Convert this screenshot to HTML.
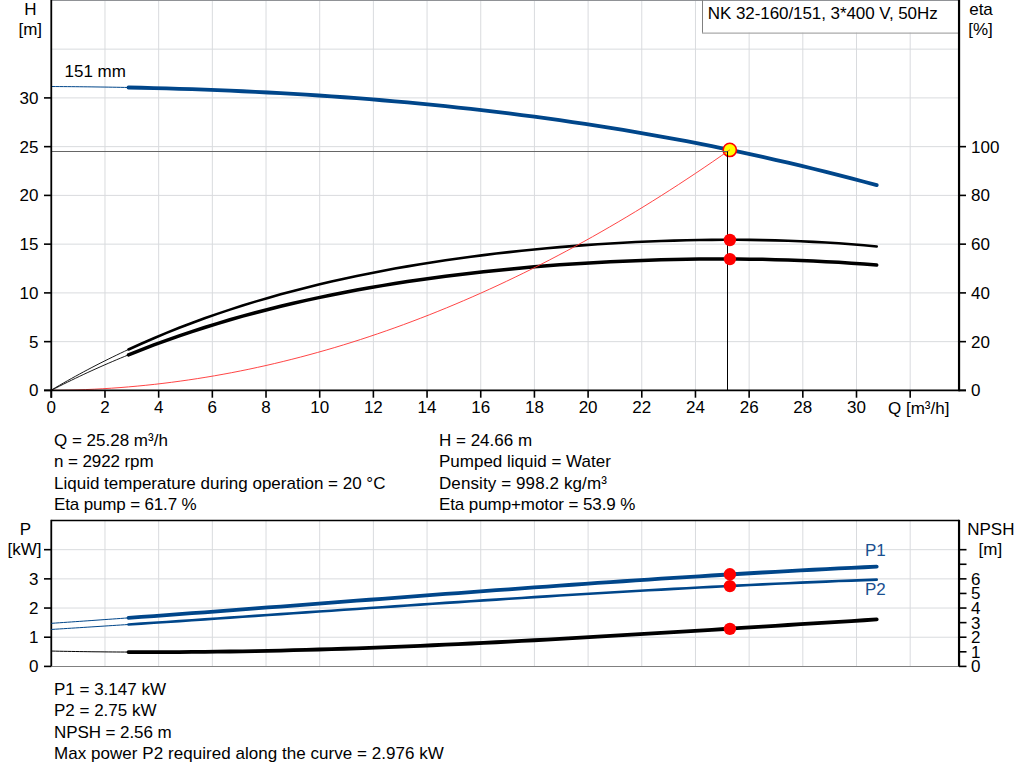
<!DOCTYPE html>
<html><head><meta charset="utf-8"><style>
html,body{margin:0;padding:0;background:#fff;}
svg{display:block;}
text{font-family:"Liberation Sans",sans-serif;font-size:17px;}
</style></head><body>
<svg width="1024" height="781" viewBox="0 0 1024 781">
<rect width="1024" height="781" fill="#fff"/>
<line x1="104.98" y1="0" x2="104.98" y2="390" stroke="#d9dbde" stroke-width="1"/>
<line x1="158.66" y1="0" x2="158.66" y2="390" stroke="#d9dbde" stroke-width="1"/>
<line x1="212.34" y1="0" x2="212.34" y2="390" stroke="#d9dbde" stroke-width="1"/>
<line x1="266.02" y1="0" x2="266.02" y2="390" stroke="#d9dbde" stroke-width="1"/>
<line x1="319.70" y1="0" x2="319.70" y2="390" stroke="#d9dbde" stroke-width="1"/>
<line x1="373.38" y1="0" x2="373.38" y2="390" stroke="#d9dbde" stroke-width="1"/>
<line x1="427.06" y1="0" x2="427.06" y2="390" stroke="#d9dbde" stroke-width="1"/>
<line x1="480.74" y1="0" x2="480.74" y2="390" stroke="#d9dbde" stroke-width="1"/>
<line x1="534.42" y1="0" x2="534.42" y2="390" stroke="#d9dbde" stroke-width="1"/>
<line x1="588.10" y1="0" x2="588.10" y2="390" stroke="#d9dbde" stroke-width="1"/>
<line x1="641.78" y1="0" x2="641.78" y2="390" stroke="#d9dbde" stroke-width="1"/>
<line x1="695.46" y1="0" x2="695.46" y2="390" stroke="#d9dbde" stroke-width="1"/>
<line x1="749.14" y1="0" x2="749.14" y2="390" stroke="#d9dbde" stroke-width="1"/>
<line x1="802.82" y1="0" x2="802.82" y2="390" stroke="#d9dbde" stroke-width="1"/>
<line x1="856.50" y1="0" x2="856.50" y2="390" stroke="#d9dbde" stroke-width="1"/>
<line x1="910.18" y1="0" x2="910.18" y2="390" stroke="#d9dbde" stroke-width="1"/>
<line x1="51" y1="341.65" x2="959" y2="341.65" stroke="#d9dbde" stroke-width="1"/>
<line x1="51" y1="292.90" x2="959" y2="292.90" stroke="#d9dbde" stroke-width="1"/>
<line x1="51" y1="244.15" x2="959" y2="244.15" stroke="#d9dbde" stroke-width="1"/>
<line x1="51" y1="195.40" x2="959" y2="195.40" stroke="#d9dbde" stroke-width="1"/>
<line x1="51" y1="146.65" x2="959" y2="146.65" stroke="#d9dbde" stroke-width="1"/>
<line x1="51" y1="97.90" x2="959" y2="97.90" stroke="#d9dbde" stroke-width="1"/>
<line x1="51" y1="49.15" x2="959" y2="49.15" stroke="#d9dbde" stroke-width="1"/>
<line x1="51" y1="0.5" x2="959" y2="0.5" stroke="#909296" stroke-width="1"/>
<rect x="703" y="1" width="255" height="31.5" fill="#fff" stroke="none"/>
<line x1="702.5" y1="0" x2="702.5" y2="33" stroke="#808080" stroke-width="1"/>
<line x1="702" y1="33.1" x2="959" y2="33.1" stroke="#aaaaaa" stroke-width="1.4"/>
<path d="M51.30,390.10 L55.36,387.70 L59.43,385.33 L63.49,382.99 L67.55,380.68 L71.62,378.41 L75.68,376.16 L79.74,373.94 L83.81,371.74 L87.87,369.58 L91.93,367.45 L95.99,365.34 L100.06,363.26 L104.12,361.21 L108.18,359.19 L112.25,357.19 L116.31,355.22 L120.37,353.27 L124.44,351.35 L128.50,349.45" fill="none" stroke="#000" stroke-width="0.9"/>
<path d="M128.50,349.45 L141.18,343.70 L153.86,338.19 L166.54,332.90 L179.23,327.83 L191.91,322.98 L204.59,318.33 L217.27,313.87 L229.95,309.61 L242.63,305.53 L255.31,301.62 L267.99,297.89 L280.68,294.32 L293.36,290.90 L306.04,287.64 L318.72,284.52 L331.40,281.55 L344.08,278.70 L356.76,275.99 L369.45,273.40 L382.13,270.94 L394.81,268.59 L407.49,266.35 L420.17,264.22 L432.85,262.20 L445.53,260.28 L458.22,258.46 L470.90,256.73 L483.58,255.09 L496.26,253.55 L508.94,252.09 L521.62,250.72 L534.30,249.44 L546.98,248.24 L559.67,247.12 L572.35,246.08 L585.03,245.12 L597.71,244.24 L610.39,243.43 L623.07,242.71 L635.75,242.06 L648.44,241.50 L661.12,241.01 L673.80,240.60 L686.48,240.27 L699.16,240.03 L711.84,239.87 L724.52,239.79 L737.21,239.80 L749.89,239.90 L762.57,240.09 L775.25,240.38 L787.93,240.76 L800.61,241.24 L813.29,241.83 L825.97,242.52 L838.66,243.32 L851.34,244.24 L864.02,245.27 L876.70,246.42" fill="none" stroke="#000" stroke-width="2.6" stroke-linecap="round"/>
<path d="M51.30,390.35 L55.36,388.26 L59.43,386.20 L63.49,384.16 L67.55,382.15 L71.62,380.16 L75.68,378.20 L79.74,376.26 L83.81,374.34 L87.87,372.45 L91.93,370.59 L95.99,368.75 L100.06,366.93 L104.12,365.13 L108.18,363.36 L112.25,361.61 L116.31,359.89 L120.37,358.18 L124.44,356.50 L128.50,354.84" fill="none" stroke="#000" stroke-width="0.9"/>
<path d="M128.50,354.84 L141.18,349.79 L153.86,344.95 L166.54,340.31 L179.23,335.85 L191.91,331.58 L204.59,327.48 L217.27,323.55 L229.95,319.79 L242.63,316.19 L255.31,312.74 L267.99,309.44 L280.68,306.29 L293.36,303.27 L306.04,300.39 L318.72,297.63 L331.40,295.00 L344.08,292.49 L356.76,290.09 L369.45,287.81 L382.13,285.63 L394.81,283.56 L407.49,281.59 L420.17,279.72 L432.85,277.95 L445.53,276.26 L458.22,274.67 L470.90,273.16 L483.58,271.74 L496.26,270.40 L508.94,269.14 L521.62,267.95 L534.30,266.85 L546.98,265.82 L559.67,264.86 L572.35,263.98 L585.03,263.17 L597.71,262.44 L610.39,261.77 L623.07,261.17 L635.75,260.65 L648.44,260.19 L661.12,259.81 L673.80,259.50 L686.48,259.25 L699.16,259.08 L711.84,258.99 L724.52,258.96 L737.21,259.02 L749.89,259.14 L762.57,259.35 L775.25,259.64 L787.93,260.01 L800.61,260.46 L813.29,261.00 L825.97,261.63 L838.66,262.35 L851.34,263.16 L864.02,264.07 L876.70,265.09" fill="none" stroke="#000" stroke-width="3.5" stroke-linecap="round"/>
<path d="M51.30,86.52 L55.36,86.54 L59.43,86.57 L63.49,86.60 L67.55,86.63 L71.62,86.66 L75.68,86.70 L79.74,86.74 L83.81,86.79 L87.87,86.84 L91.93,86.89 L95.99,86.94 L100.06,87.00 L104.12,87.06 L108.18,87.12 L112.25,87.19 L116.31,87.26 L120.37,87.33 L124.44,87.41 L128.50,87.49" fill="none" stroke="#00468a" stroke-width="1"/>
<path d="M128.50,87.49 L141.18,87.76 L153.86,88.07 L166.54,88.41 L179.23,88.79 L191.91,89.20 L204.59,89.65 L217.27,90.14 L229.95,90.67 L242.63,91.24 L255.31,91.84 L267.99,92.49 L280.68,93.18 L293.36,93.91 L306.04,94.68 L318.72,95.50 L331.40,96.36 L344.08,97.26 L356.76,98.21 L369.45,99.21 L382.13,100.25 L394.81,101.34 L407.49,102.48 L420.17,103.67 L432.85,104.91 L445.53,106.20 L458.22,107.54 L470.90,108.93 L483.58,110.37 L496.26,111.87 L508.94,113.42 L521.62,115.03 L534.30,116.69 L546.98,118.41 L559.67,120.19 L572.35,122.02 L585.03,123.91 L597.71,125.86 L610.39,127.88 L623.07,129.95 L635.75,132.08 L648.44,134.27 L661.12,136.53 L673.80,138.85 L686.48,141.23 L699.16,143.68 L711.84,146.20 L724.52,148.78 L737.21,151.43 L749.89,154.14 L762.57,156.92 L775.25,159.78 L787.93,162.70 L800.61,165.69 L813.29,168.76 L825.97,171.89 L838.66,175.10 L851.34,178.38 L864.02,181.74 L876.70,185.17" fill="none" stroke="#00468a" stroke-width="3.8" stroke-linecap="round"/>
<circle cx="729.8" cy="149.9" r="6.6" fill="#ffff00" stroke="#ff0000" stroke-width="1.6"/>
<path d="M51.30,390.39 L59.89,390.30 L68.48,390.14 L77.07,389.91 L85.66,389.59 L94.25,389.20 L102.84,388.74 L111.43,388.20 L120.02,387.58 L128.61,386.89 L137.20,386.12 L145.79,385.28 L154.38,384.36 L162.97,383.36 L171.56,382.29 L180.15,381.14 L188.74,379.92 L197.33,378.62 L205.92,377.24 L214.51,375.79 L223.10,374.26 L231.69,372.66 L240.28,370.98 L248.87,369.22 L257.46,367.39 L266.05,365.49 L274.64,363.50 L283.23,361.44 L291.82,359.31 L300.41,357.10 L309.00,354.81 L317.59,352.45 L326.18,350.01 L334.77,347.50 L343.36,344.91 L351.95,342.24 L360.54,339.50 L369.13,336.68 L377.72,333.78 L386.31,330.81 L394.89,327.77 L403.48,324.65 L412.07,321.45 L420.66,318.17 L429.25,314.83 L437.84,311.40 L446.43,307.90 L455.02,304.32 L463.61,300.67 L472.20,296.94 L480.79,293.13 L489.38,289.25 L497.97,285.30 L506.56,281.26 L515.15,277.15 L523.74,272.97 L532.33,268.71 L540.92,264.37 L549.51,259.96 L558.10,255.47 L566.69,250.91 L575.28,246.27 L583.87,241.55 L592.46,236.76 L601.05,231.89 L609.64,226.95 L618.23,221.93 L626.82,216.83 L635.41,211.66 L644.00,206.41 L652.59,201.09 L661.18,195.69 L669.77,190.21 L678.36,184.66 L686.95,179.03 L695.54,173.33 L704.13,167.55 L712.72,161.70 L721.31,155.77 L729.90,149.76" fill="none" stroke="#ff3030" stroke-width="0.9"/>
<line x1="727.5" y1="151" x2="727.5" y2="390" stroke="#000" stroke-width="1"/>
<line x1="51.3" y1="151.5" x2="727.5" y2="151.5" stroke="#666" stroke-width="1"/>
<circle cx="729.9" cy="240" r="6.2" fill="#ff0000"/>
<circle cx="729.9" cy="259.1" r="6.2" fill="#ff0000"/>
<line x1="51.28" y1="0" x2="51.28" y2="397.7" stroke="#000" stroke-width="1.8"/>
<line x1="959.05" y1="0" x2="959.05" y2="391.3" stroke="#000" stroke-width="2.2"/>
<line x1="44" y1="390.4" x2="966" y2="390.4" stroke="#000" stroke-width="1.8"/>
<line x1="51.30" y1="390.4" x2="51.30" y2="397.7" stroke="#000" stroke-width="1.6"/>
<line x1="104.98" y1="390.4" x2="104.98" y2="397.7" stroke="#000" stroke-width="1.6"/>
<line x1="158.66" y1="390.4" x2="158.66" y2="397.7" stroke="#000" stroke-width="1.6"/>
<line x1="212.34" y1="390.4" x2="212.34" y2="397.7" stroke="#000" stroke-width="1.6"/>
<line x1="266.02" y1="390.4" x2="266.02" y2="397.7" stroke="#000" stroke-width="1.6"/>
<line x1="319.70" y1="390.4" x2="319.70" y2="397.7" stroke="#000" stroke-width="1.6"/>
<line x1="373.38" y1="390.4" x2="373.38" y2="397.7" stroke="#000" stroke-width="1.6"/>
<line x1="427.06" y1="390.4" x2="427.06" y2="397.7" stroke="#000" stroke-width="1.6"/>
<line x1="480.74" y1="390.4" x2="480.74" y2="397.7" stroke="#000" stroke-width="1.6"/>
<line x1="534.42" y1="390.4" x2="534.42" y2="397.7" stroke="#000" stroke-width="1.6"/>
<line x1="588.10" y1="390.4" x2="588.10" y2="397.7" stroke="#000" stroke-width="1.6"/>
<line x1="641.78" y1="390.4" x2="641.78" y2="397.7" stroke="#000" stroke-width="1.6"/>
<line x1="695.46" y1="390.4" x2="695.46" y2="397.7" stroke="#000" stroke-width="1.6"/>
<line x1="749.14" y1="390.4" x2="749.14" y2="397.7" stroke="#000" stroke-width="1.6"/>
<line x1="802.82" y1="390.4" x2="802.82" y2="397.7" stroke="#000" stroke-width="1.6"/>
<line x1="856.50" y1="390.4" x2="856.50" y2="397.7" stroke="#000" stroke-width="1.6"/>
<line x1="910.18" y1="390.4" x2="910.18" y2="397.7" stroke="#000" stroke-width="1.6"/>
<line x1="44" y1="390.40" x2="51.3" y2="390.40" stroke="#000" stroke-width="1.6"/>
<line x1="44" y1="341.65" x2="51.3" y2="341.65" stroke="#000" stroke-width="1.6"/>
<line x1="44" y1="292.90" x2="51.3" y2="292.90" stroke="#000" stroke-width="1.6"/>
<line x1="44" y1="244.15" x2="51.3" y2="244.15" stroke="#000" stroke-width="1.6"/>
<line x1="44" y1="195.40" x2="51.3" y2="195.40" stroke="#000" stroke-width="1.6"/>
<line x1="44" y1="146.65" x2="51.3" y2="146.65" stroke="#000" stroke-width="1.6"/>
<line x1="44" y1="97.90" x2="51.3" y2="97.90" stroke="#000" stroke-width="1.6"/>
<line x1="959" y1="390.40" x2="966" y2="390.40" stroke="#000" stroke-width="1.6"/>
<line x1="959" y1="341.65" x2="966" y2="341.65" stroke="#000" stroke-width="1.6"/>
<line x1="959" y1="292.90" x2="966" y2="292.90" stroke="#000" stroke-width="1.6"/>
<line x1="959" y1="244.15" x2="966" y2="244.15" stroke="#000" stroke-width="1.6"/>
<line x1="959" y1="195.40" x2="966" y2="195.40" stroke="#000" stroke-width="1.6"/>
<line x1="959" y1="146.65" x2="966" y2="146.65" stroke="#000" stroke-width="1.6"/>
<line x1="104.98" y1="520" x2="104.98" y2="666" stroke="#d9dbde" stroke-width="1"/>
<line x1="158.66" y1="520" x2="158.66" y2="666" stroke="#d9dbde" stroke-width="1"/>
<line x1="212.34" y1="520" x2="212.34" y2="666" stroke="#d9dbde" stroke-width="1"/>
<line x1="266.02" y1="520" x2="266.02" y2="666" stroke="#d9dbde" stroke-width="1"/>
<line x1="319.70" y1="520" x2="319.70" y2="666" stroke="#d9dbde" stroke-width="1"/>
<line x1="373.38" y1="520" x2="373.38" y2="666" stroke="#d9dbde" stroke-width="1"/>
<line x1="427.06" y1="520" x2="427.06" y2="666" stroke="#d9dbde" stroke-width="1"/>
<line x1="480.74" y1="520" x2="480.74" y2="666" stroke="#d9dbde" stroke-width="1"/>
<line x1="534.42" y1="520" x2="534.42" y2="666" stroke="#d9dbde" stroke-width="1"/>
<line x1="588.10" y1="520" x2="588.10" y2="666" stroke="#d9dbde" stroke-width="1"/>
<line x1="641.78" y1="520" x2="641.78" y2="666" stroke="#d9dbde" stroke-width="1"/>
<line x1="695.46" y1="520" x2="695.46" y2="666" stroke="#d9dbde" stroke-width="1"/>
<line x1="749.14" y1="520" x2="749.14" y2="666" stroke="#d9dbde" stroke-width="1"/>
<line x1="802.82" y1="520" x2="802.82" y2="666" stroke="#d9dbde" stroke-width="1"/>
<line x1="856.50" y1="520" x2="856.50" y2="666" stroke="#d9dbde" stroke-width="1"/>
<line x1="910.18" y1="520" x2="910.18" y2="666" stroke="#d9dbde" stroke-width="1"/>
<line x1="51" y1="637.22" x2="959" y2="637.22" stroke="#d9dbde" stroke-width="1"/>
<line x1="51" y1="608.04" x2="959" y2="608.04" stroke="#d9dbde" stroke-width="1"/>
<line x1="51" y1="578.86" x2="959" y2="578.86" stroke="#d9dbde" stroke-width="1"/>
<line x1="51" y1="549.68" x2="959" y2="549.68" stroke="#d9dbde" stroke-width="1"/>
<line x1="51" y1="666.5" x2="959" y2="666.5" stroke="#808080" stroke-width="1"/>
<line x1="51.3" y1="520.5" x2="959" y2="520.5" stroke="#000" stroke-width="1.4"/>
<line x1="51.28" y1="519.8" x2="51.28" y2="666" stroke="#000" stroke-width="1.8"/>
<line x1="959.05" y1="519.8" x2="959.05" y2="666.4" stroke="#000" stroke-width="2.2"/>
<line x1="44" y1="666.40" x2="51.3" y2="666.40" stroke="#000" stroke-width="1.6"/>
<line x1="44" y1="637.22" x2="51.3" y2="637.22" stroke="#000" stroke-width="1.6"/>
<line x1="44" y1="608.04" x2="51.3" y2="608.04" stroke="#000" stroke-width="1.6"/>
<line x1="44" y1="578.86" x2="51.3" y2="578.86" stroke="#000" stroke-width="1.6"/>
<line x1="44" y1="549.68" x2="51.3" y2="549.68" stroke="#000" stroke-width="1.6"/>
<line x1="959" y1="666.40" x2="966.5" y2="666.40" stroke="#000" stroke-width="1.6"/>
<line x1="959" y1="651.81" x2="966.5" y2="651.81" stroke="#000" stroke-width="1.6"/>
<line x1="959" y1="637.22" x2="966.5" y2="637.22" stroke="#000" stroke-width="1.6"/>
<line x1="959" y1="622.63" x2="966.5" y2="622.63" stroke="#000" stroke-width="1.6"/>
<line x1="959" y1="608.04" x2="966.5" y2="608.04" stroke="#000" stroke-width="1.6"/>
<line x1="959" y1="593.45" x2="966.5" y2="593.45" stroke="#000" stroke-width="1.6"/>
<line x1="959" y1="578.86" x2="966.5" y2="578.86" stroke="#000" stroke-width="1.6"/>
<line x1="959" y1="564.27" x2="966.5" y2="564.27" stroke="#000" stroke-width="1.6"/>
<line x1="959" y1="549.68" x2="966.5" y2="549.68" stroke="#000" stroke-width="1.6"/>
<path d="M51.30,651.04 L55.36,651.13 L59.43,651.22 L63.49,651.30 L67.55,651.37 L71.62,651.44 L75.68,651.51 L79.74,651.58 L83.81,651.64 L87.87,651.69 L91.93,651.75 L95.99,651.80 L100.06,651.84 L104.12,651.89 L108.18,651.93 L112.25,651.96 L116.31,651.99 L120.37,652.02 L124.44,652.04 L128.50,652.07" fill="none" stroke="#000" stroke-width="1"/>
<path d="M128.50,652.07 L141.18,652.11 L153.86,652.12 L166.54,652.10 L179.23,652.04 L191.91,651.96 L204.59,651.84 L217.27,651.69 L229.95,651.52 L242.63,651.31 L255.31,651.08 L267.99,650.82 L280.68,650.53 L293.36,650.22 L306.04,649.88 L318.72,649.52 L331.40,649.14 L344.08,648.73 L356.76,648.30 L369.45,647.84 L382.13,647.37 L394.81,646.87 L407.49,646.36 L420.17,645.82 L432.85,645.27 L445.53,644.70 L458.22,644.11 L470.90,643.51 L483.58,642.89 L496.26,642.25 L508.94,641.60 L521.62,640.94 L534.30,640.26 L546.98,639.57 L559.67,638.87 L572.35,638.16 L585.03,637.43 L597.71,636.70 L610.39,635.96 L623.07,635.21 L635.75,634.45 L648.44,633.69 L661.12,632.92 L673.80,632.14 L686.48,631.36 L699.16,630.57 L711.84,629.78 L724.52,628.99 L737.21,628.19 L749.89,627.39 L762.57,626.59 L775.25,625.79 L787.93,625.00 L800.61,624.20 L813.29,623.40 L825.97,622.61 L838.66,621.82 L851.34,621.03 L864.02,620.25 L876.70,619.47" fill="none" stroke="#000" stroke-width="3.8" stroke-linecap="round"/>
<path d="M51.30,629.46 L55.36,629.20 L59.43,628.95 L63.49,628.69 L67.55,628.43 L71.62,628.17 L75.68,627.92 L79.74,627.66 L83.81,627.40 L87.87,627.13 L91.93,626.87 L95.99,626.61 L100.06,626.35 L104.12,626.08 L108.18,625.82 L112.25,625.55 L116.31,625.29 L120.37,625.02 L124.44,624.75 L128.50,624.49" fill="none" stroke="#00468a" stroke-width="1"/>
<path d="M128.50,624.49 L141.18,623.65 L153.86,622.80 L166.54,621.95 L179.23,621.10 L191.91,620.24 L204.59,619.38 L217.27,618.52 L229.95,617.65 L242.63,616.78 L255.31,615.91 L267.99,615.04 L280.68,614.17 L293.36,613.30 L306.04,612.42 L318.72,611.55 L331.40,610.68 L344.08,609.80 L356.76,608.93 L369.45,608.07 L382.13,607.20 L394.81,606.34 L407.49,605.48 L420.17,604.62 L432.85,603.77 L445.53,602.92 L458.22,602.08 L470.90,601.24 L483.58,600.41 L496.26,599.58 L508.94,598.76 L521.62,597.95 L534.30,597.14 L546.98,596.34 L559.67,595.55 L572.35,594.77 L585.03,594.00 L597.71,593.24 L610.39,592.48 L623.07,591.74 L635.75,591.01 L648.44,590.29 L661.12,589.58 L673.80,588.88 L686.48,588.19 L699.16,587.52 L711.84,586.86 L724.52,586.21 L737.21,585.58 L749.89,584.96 L762.57,584.36 L775.25,583.77 L787.93,583.20 L800.61,582.64 L813.29,582.10 L825.97,581.58 L838.66,581.07 L851.34,580.59 L864.02,580.12 L876.70,579.66" fill="none" stroke="#00468a" stroke-width="2.6" stroke-linecap="round"/>
<path d="M51.30,623.33 L55.36,623.05 L59.43,622.77 L63.49,622.49 L67.55,622.21 L71.62,621.93 L75.68,621.64 L79.74,621.36 L83.81,621.07 L87.87,620.79 L91.93,620.50 L95.99,620.21 L100.06,619.92 L104.12,619.63 L108.18,619.34 L112.25,619.05 L116.31,618.76 L120.37,618.47 L124.44,618.17 L128.50,617.88" fill="none" stroke="#00468a" stroke-width="1"/>
<path d="M128.50,617.88 L141.18,616.96 L153.86,616.03 L166.54,615.10 L179.23,614.16 L191.91,613.22 L204.59,612.27 L217.27,611.32 L229.95,610.36 L242.63,609.41 L255.31,608.44 L267.99,607.48 L280.68,606.52 L293.36,605.55 L306.04,604.58 L318.72,603.61 L331.40,602.64 L344.08,601.67 L356.76,600.71 L369.45,599.74 L382.13,598.77 L394.81,597.81 L407.49,596.85 L420.17,595.89 L432.85,594.93 L445.53,593.98 L458.22,593.03 L470.90,592.09 L483.58,591.15 L496.26,590.21 L508.94,589.28 L521.62,588.36 L534.30,587.44 L546.98,586.53 L559.67,585.63 L572.35,584.74 L585.03,583.85 L597.71,582.97 L610.39,582.10 L623.07,581.24 L635.75,580.39 L648.44,579.55 L661.12,578.72 L673.80,577.90 L686.48,577.10 L699.16,576.30 L711.84,575.52 L724.52,574.75 L737.21,573.99 L749.89,573.25 L762.57,572.52 L775.25,571.81 L787.93,571.10 L800.61,570.42 L813.29,569.75 L825.97,569.10 L838.66,568.46 L851.34,567.84 L864.02,567.24 L876.70,566.65" fill="none" stroke="#00468a" stroke-width="3.8" stroke-linecap="round"/>
<circle cx="729.9" cy="574.3" r="6.2" fill="#ff0000"/>
<circle cx="729.9" cy="586.1" r="6.2" fill="#ff0000"/>
<circle cx="729.9" cy="628.9" r="6.2" fill="#ff0000"/>
<text x="30.3" y="15" text-anchor="middle" fill="#000">H</text>
<text x="30.3" y="35" text-anchor="middle" fill="#000">[m]</text>
<text x="981" y="15" text-anchor="middle" fill="#000">eta</text>
<text x="980.5" y="35" text-anchor="middle" fill="#000">[%]</text>
<text x="38.5" y="396.4" text-anchor="end" fill="#000">0</text>
<text x="38.5" y="347.6" text-anchor="end" fill="#000">5</text>
<text x="38.5" y="298.9" text-anchor="end" fill="#000">10</text>
<text x="38.5" y="250.1" text-anchor="end" fill="#000">15</text>
<text x="38.5" y="201.4" text-anchor="end" fill="#000">20</text>
<text x="38.5" y="152.6" text-anchor="end" fill="#000">25</text>
<text x="38.5" y="103.9" text-anchor="end" fill="#000">30</text>
<text x="971" y="396.4" text-anchor="start" fill="#000">0</text>
<text x="971" y="347.6" text-anchor="start" fill="#000">20</text>
<text x="971" y="298.9" text-anchor="start" fill="#000">40</text>
<text x="971" y="250.1" text-anchor="start" fill="#000">60</text>
<text x="971" y="201.4" text-anchor="start" fill="#000">80</text>
<text x="971" y="152.6" text-anchor="start" fill="#000">100</text>
<text x="51.3" y="413" text-anchor="middle" fill="#000">0</text>
<text x="104.98" y="413" text-anchor="middle" fill="#000">2</text>
<text x="158.66" y="413" text-anchor="middle" fill="#000">4</text>
<text x="212.34" y="413" text-anchor="middle" fill="#000">6</text>
<text x="266.02" y="413" text-anchor="middle" fill="#000">8</text>
<text x="319.7" y="413" text-anchor="middle" fill="#000">10</text>
<text x="373.38" y="413" text-anchor="middle" fill="#000">12</text>
<text x="427.06" y="413" text-anchor="middle" fill="#000">14</text>
<text x="480.74" y="413" text-anchor="middle" fill="#000">16</text>
<text x="534.42" y="413" text-anchor="middle" fill="#000">18</text>
<text x="588.1" y="413" text-anchor="middle" fill="#000">20</text>
<text x="641.78" y="413" text-anchor="middle" fill="#000">22</text>
<text x="695.46" y="413" text-anchor="middle" fill="#000">24</text>
<text x="749.14" y="413" text-anchor="middle" fill="#000">26</text>
<text x="802.82" y="413" text-anchor="middle" fill="#000">28</text>
<text x="856.5" y="413" text-anchor="middle" fill="#000">30</text>
<text x="888" y="413.5" text-anchor="start" fill="#000">Q [m³/h]</text>
<text x="64.5" y="77" text-anchor="start" fill="#000">151 mm</text>
<text x="707.8" y="19" text-anchor="start" fill="#000" textLength="229.88" lengthAdjust="spacing">NK 32-160/151, 3*400 V, 50Hz</text>
<text x="54" y="446" text-anchor="start" fill="#000">Q = 25.28 m³/h</text>
<text x="439" y="446" text-anchor="start" fill="#000">H = 24.66 m</text>
<text x="54" y="467.3" text-anchor="start" fill="#000" textLength="99.66" lengthAdjust="spacing">n = 2922 rpm</text>
<text x="439" y="467.3" text-anchor="start" fill="#000">Pumped liquid = Water</text>
<text x="54" y="488.7" text-anchor="start" fill="#000">Liquid temperature during operation = 20 °C</text>
<text x="439" y="488.7" text-anchor="start" fill="#000" textLength="167.83" lengthAdjust="spacing">Density = 998.2 kg/m³</text>
<text x="54" y="510" text-anchor="start" fill="#000" textLength="142.68" lengthAdjust="spacing">Eta pump = 61.7 %</text>
<text x="439" y="510" text-anchor="start" fill="#000" textLength="196.45" lengthAdjust="spacing">Eta pump+motor = 53.9 %</text>
<text x="25.3" y="535" text-anchor="middle" fill="#000">P</text>
<text x="24.6" y="555" text-anchor="middle" fill="#000">[kW]</text>
<text x="990.8" y="535" text-anchor="middle" fill="#000">NPSH</text>
<text x="990.4" y="555" text-anchor="middle" fill="#000">[m]</text>
<text x="38.5" y="672.4" text-anchor="end" fill="#000">0</text>
<text x="38.5" y="643.2" text-anchor="end" fill="#000">1</text>
<text x="38.5" y="614.0" text-anchor="end" fill="#000">2</text>
<text x="38.5" y="584.9" text-anchor="end" fill="#000">3</text>
<text x="971" y="672.4" text-anchor="start" fill="#000">0</text>
<text x="971" y="657.8" text-anchor="start" fill="#000">1</text>
<text x="971" y="643.2" text-anchor="start" fill="#000">2</text>
<text x="971" y="628.6" text-anchor="start" fill="#000">3</text>
<text x="971" y="614.0" text-anchor="start" fill="#000">4</text>
<text x="971" y="599.4" text-anchor="start" fill="#000">5</text>
<text x="971" y="584.9" text-anchor="start" fill="#000">6</text>
<text x="865" y="556" text-anchor="start" fill="#1a4f8f">P1</text>
<text x="865" y="595" text-anchor="start" fill="#1a4f8f">P2</text>
<text x="54" y="695" text-anchor="start" fill="#000">P1 = 3.147 kW</text>
<text x="54" y="716.3" text-anchor="start" fill="#000">P2 = 2.75 kW</text>
<text x="54" y="737.7" text-anchor="start" fill="#000" textLength="117.68" lengthAdjust="spacing">NPSH = 2.56 m</text>
<text x="54" y="759" text-anchor="start" fill="#000" textLength="389.90" lengthAdjust="spacing">Max power P2 required along the curve = 2.976 kW</text>
</svg>
</body></html>
